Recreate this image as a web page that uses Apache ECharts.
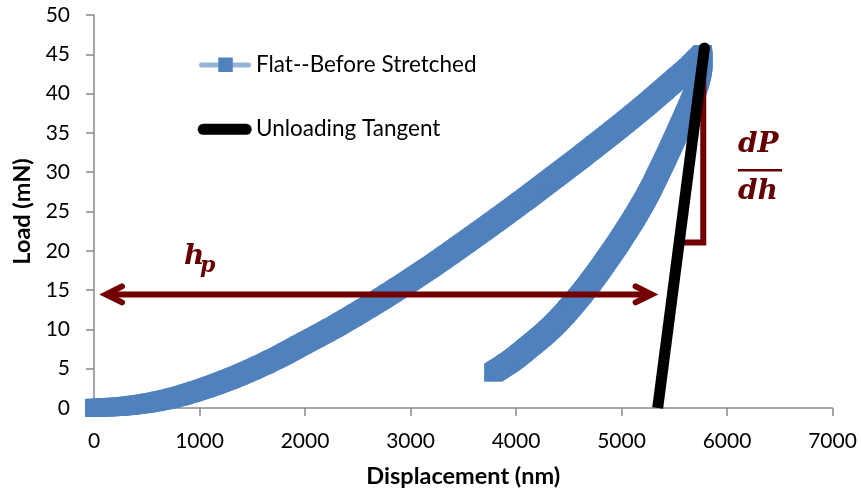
<!DOCTYPE html>
<html>
<head>
<meta charset="utf-8">
<script src="https://cdn.jsdelivr.net/npm/echarts@6/dist/echarts.min.js"></script>
<style>
  html, body { margin: 0; padding: 0; background: #ffffff; }
  #chart { width: 861px; height: 494px; }
</style>
</head>
<body>
<div id="chart"></div>
<script>
// Indentation cycle (loading up to the peak, then unloading)
const displacementNm = [
  0, 250, 500, 750, 1000, 1250, 1500, 1750, 2000, 2250, 2500, 2750, 3000,
  3250, 3500, 3750, 4000, 4250, 4500, 4750, 5000, 5250, 5500, 5650, 5770,
  5775, 5750, 5706, 5640, 5528, 5380, 5223, 5000, 4800, 4627, 4400, 4250,
  4106, 3950, 3783
];
const loadMN = [
  0, 0.2, 0.6, 1.3, 2.3, 3.5, 4.9, 6.5, 8.3, 10.1, 12.05, 14.1, 16.25,
  18.5, 20.85, 23.25, 25.7, 28.2, 30.75, 33.35, 36.0, 38.75, 41.65, 43.4, 45.0,
  44.0, 42.3, 40.5, 38.4, 35.0, 30.7, 26.5, 21.6, 17.7, 14.6, 11.1, 9.2,
  7.6, 5.95, 4.5
];

// Unloading tangent line (end points)
const tangentDisplacement = [5343, 5786];
const tangentLoad = [0, 45.8];

// Residual depth arrow h_p: arrow tips and load level
const hpArrowDisplacement = [50, 5349];
const hpArrowLoad = 14.45;

// dP/dh slope bracket: horizontal run and vertical rise
const bracketDisplacement = [5585, 5775];
const bracketLoad = [21.05, 44.06];

// Axis scales
const xAxisRange = [0, 7000, 1000];
const yAxisRange = [0, 50, 5];

const seriesNames = ['Flat--Before Stretched', 'Unloading Tangent'];

const BLUE = '#4f81bd';
const BLUE_LIGHT = '#95b3d7';
const RED = '#720000';
const RED_TEXT = '#650000';
const AXIS_GREY = '#898989';
const UI_FONT = 'Lato';
const MATH_FONT = 'DejaVu Serif';
const MARKER = 18;
const STEPS = 10;

const peakIndex = loadMN.indexOf(Math.max.apply(null, loadMN));

// Area swept by a square marker moving from p to q (convex hull of both squares)
function sweptSquare(p, q, s) {
  const h = s / 2;
  const pts = [];
  [p, q].forEach(function (c) {
    pts.push([c[0] - h, c[1] - h], [c[0] + h, c[1] - h],
             [c[0] + h, c[1] + h], [c[0] - h, c[1] + h]);
  });
  pts.sort(function (a, b) { return a[0] - b[0] || a[1] - b[1]; });
  const cross = function (o, a, b) {
    return (a[0] - o[0]) * (b[1] - o[1]) - (a[1] - o[1]) * (b[0] - o[0]);
  };
  const lower = [], upper = [];
  for (let i = 0; i < pts.length; i++) {
    while (lower.length >= 2 && cross(lower[lower.length - 2], lower[lower.length - 1], pts[i]) <= 0) lower.pop();
    lower.push(pts[i]);
  }
  for (let i = pts.length - 1; i >= 0; i--) {
    while (upper.length >= 2 && cross(upper[upper.length - 2], upper[upper.length - 1], pts[i]) <= 0) upper.pop();
    upper.push(pts[i]);
  }
  lower.pop(); upper.pop();
  return lower.concat(upper);
}

// Centripetal Catmull-Rom point between p1 and p2
function catmullRom(p0, p1, p2, p3, t) {
  const d = function (a, b) { return Math.pow(Math.hypot(b[0] - a[0], b[1] - a[1]), 0.5) || 1e-4; };
  const t0 = 0, t1 = t0 + d(p0, p1), t2 = t1 + d(p1, p2), t3 = t2 + d(p2, p3);
  const tt = t1 + (t2 - t1) * t;
  const lerp = function (a, b, ta, tb) {
    const w = (tt - ta) / (tb - ta);
    return [a[0] + (b[0] - a[0]) * w, a[1] + (b[1] - a[1]) * w];
  };
  const A1 = lerp(p0, p1, t0, t1), A2 = lerp(p1, p2, t1, t2), A3 = lerp(p2, p3, t2, t3);
  const B1 = lerp(A1, A2, t0, t2), B2 = lerp(A2, A3, t1, t3);
  return lerp(B1, B2, t1, t2);
}

function renderCycle(params, api) {
  const i = params.dataIndex;
  const n = displacementNm.length;
  if (i >= n - 1) return null;
  const lo = i < peakIndex ? 0 : peakIndex;
  const hi = i < peakIndex ? peakIndex : n - 1;
  const P = function (j) { return api.coord([displacementNm[j], loadMN[j]]); };
  const p1 = P(i), p2 = P(i + 1);
  const p0 = i - 1 >= lo ? P(i - 1) : [2 * p1[0] - p2[0], 2 * p1[1] - p2[1]];
  const p3 = i + 2 <= hi ? P(i + 2) : [2 * p2[0] - p1[0], 2 * p2[1] - p1[1]];
  const pts = [];
  for (let k = 0; k <= STEPS; k++) pts.push(catmullRom(p0, p1, p2, p3, k / STEPS));
  const children = [];
  for (let k = 0; k < STEPS; k++) {
    children.push({ type: 'polygon', shape: { points: sweptSquare(pts[k], pts[k + 1], MARKER) },
                    style: { fill: BLUE } });
  }
  return { type: 'group', children: children };
}

const tangentData = tangentDisplacement.map(function (x, i) {
  const item = { value: [x, tangentLoad[i]] };
  if (i === 0) item.symbol = 'none';
  return item;
});

function renderAnnotations(params, api) {
  const L = api.coord([hpArrowDisplacement[0], hpArrowLoad]);
  const R = api.coord([hpArrowDisplacement[1], hpArrowLoad]);
  const b0 = api.coord([bracketDisplacement[0], bracketLoad[0]]);
  const b1 = api.coord([bracketDisplacement[1], bracketLoad[0]]);
  const b2 = api.coord([bracketDisplacement[1], bracketLoad[1]]);
  const tipInset = 6.7, armX = 16, armY = 8;
  const lv = [L[0] + tipInset, L[1]];
  const rv = [R[0] - tipInset, R[1]];
  const stroke = { stroke: RED, lineWidth: 6, fill: null, lineJoin: 'miter', miterLimit: 10 };
  return {
    type: 'group',
    children: [
      { type: 'line', shape: { x1: lv[0], y1: lv[1], x2: rv[0], y2: rv[1] },
        style: Object.assign({ lineCap: 'butt' }, stroke) },
      { type: 'polyline', shape: { points: [[lv[0] + armX, lv[1] - armY], lv, [lv[0] + armX, lv[1] + armY]] },
        style: Object.assign({ lineCap: 'round' }, stroke) },
      { type: 'polyline', shape: { points: [[rv[0] - armX, rv[1] - armY], rv, [rv[0] - armX, rv[1] + armY]] },
        style: Object.assign({ lineCap: 'round' }, stroke) },
      { type: 'polyline', shape: { points: [b0, b1, b2] },
        style: Object.assign({ lineCap: 'butt' }, stroke) }
    ]
  };
}

const chart = echarts.init(document.getElementById('chart'), null, { renderer: 'canvas' });

const mathStyle = { fontFamily: MATH_FONT, fontStyle: 'italic', fontWeight: 'bold', fill: RED_TEXT };

chart.setOption({
  animation: false,
  backgroundColor: '#ffffff',
  grid: { left: 94, right: 28.5, top: 15, bottom: 86, containLabel: false },
  xAxis: {
    type: 'value',
    min: xAxisRange[0], max: xAxisRange[1], interval: xAxisRange[2],
    name: 'Displacement (nm)',
    nameLocation: 'middle',
    nameGap: 56,
    nameTextStyle: { fontFamily: UI_FONT, fontWeight: 'bold', fontSize: 23.5, color: '#000' },
    axisLine: { show: true, onZero: false, lineStyle: { color: AXIS_GREY, width: 1.5 } },
    axisTick: { show: true, inside: false, length: 8, lineStyle: { color: AXIS_GREY, width: 1.5 } },
    axisLabel: { fontFamily: UI_FONT, fontSize: 21, color: '#000', margin: 23,
                 formatter: function (v) { return String(v); } },
    splitLine: { show: false }
  },
  yAxis: {
    type: 'value',
    min: yAxisRange[0], max: yAxisRange[1], interval: yAxisRange[2],
    name: 'Load (mN)',
    nameLocation: 'middle',
    nameGap: 59,
    nameRotate: 90,
    nameTextStyle: { fontFamily: UI_FONT, fontWeight: 'bold', fontSize: 23.5, color: '#000' },
    axisLine: { show: true, onZero: false, lineStyle: { color: AXIS_GREY, width: 1.5 } },
    axisTick: { show: true, inside: false, length: 8, lineStyle: { color: AXIS_GREY, width: 1.5 } },
    axisLabel: { fontFamily: UI_FONT, fontSize: 21, color: '#000', margin: 24,
                 formatter: function (v) { return String(v); } },
    splitLine: { show: false }
  },
  series: [
    {
      name: seriesNames[0],
      type: 'custom',
      coordinateSystem: 'cartesian2d',
      encode: { x: 0, y: 1 },
      clip: false,
      silent: true,
      data: displacementNm.map(function (x, i) { return [x, loadMN[i]]; }),
      renderItem: renderCycle
    },
    {
      name: seriesNames[1],
      type: 'line',
      data: tangentData,
      symbol: 'circle',
      symbolSize: 11,
      showSymbol: true,
      clip: true,
      silent: true,
      itemStyle: { color: '#000000', borderWidth: 0 },
      lineStyle: { color: '#000000', width: 11, cap: 'butt' },
      emphasis: { disabled: true }
    },
    {
      name: 'annotations',
      type: 'custom',
      coordinateSystem: 'cartesian2d',
      clip: false,
      silent: true,
      data: [[hpArrowDisplacement[0], hpArrowLoad]],
      renderItem: renderAnnotations
    }
  ],
  graphic: [
    // legend
    { type: 'line', shape: { x1: 201.5, y1: 65, x2: 248.5, y2: 65 },
      style: { stroke: BLUE_LIGHT, lineWidth: 5, lineCap: 'round' }, silent: true },
    { type: 'rect', shape: { x: 218.3, y: 57.5, width: 14.5, height: 14.5 },
      style: { fill: BLUE }, silent: true },
    { type: 'text', left: 256, top: 53,
      style: { text: seriesNames[0], fontFamily: UI_FONT, fontSize: 22.5, fill: '#000' }, silent: true },
    { type: 'line', shape: { x1: 203.2, y1: 129.3, x2: 246.2, y2: 129.3 },
      style: { stroke: '#000000', lineWidth: 11, lineCap: 'round' }, silent: true },
    { type: 'text', left: 256, top: 117.5,
      style: { text: seriesNames[1], fontFamily: UI_FONT, fontSize: 22.5, fill: '#000' }, silent: true },
    // h_p label
    { type: 'text', left: 184, top: 243,
      style: Object.assign({ text: 'h', fontSize: 28 }, mathStyle), silent: true },
    { type: 'text', left: 200, top: 255.5,
      style: Object.assign({ text: 'p', fontSize: 22 }, mathStyle), silent: true },
    // dP/dh label
    { type: 'text', left: 738, top: 131,
      style: Object.assign({ text: 'dP', fontSize: 28 }, mathStyle), silent: true },
    { type: 'rect', shape: { x: 738, y: 169, width: 44, height: 2.5 },
      style: { fill: RED_TEXT }, silent: true },
    { type: 'text', left: 738, top: 178,
      style: Object.assign({ text: 'dh', fontSize: 28 }, mathStyle), silent: true }
  ]
});
</script>
</body>
</html>
